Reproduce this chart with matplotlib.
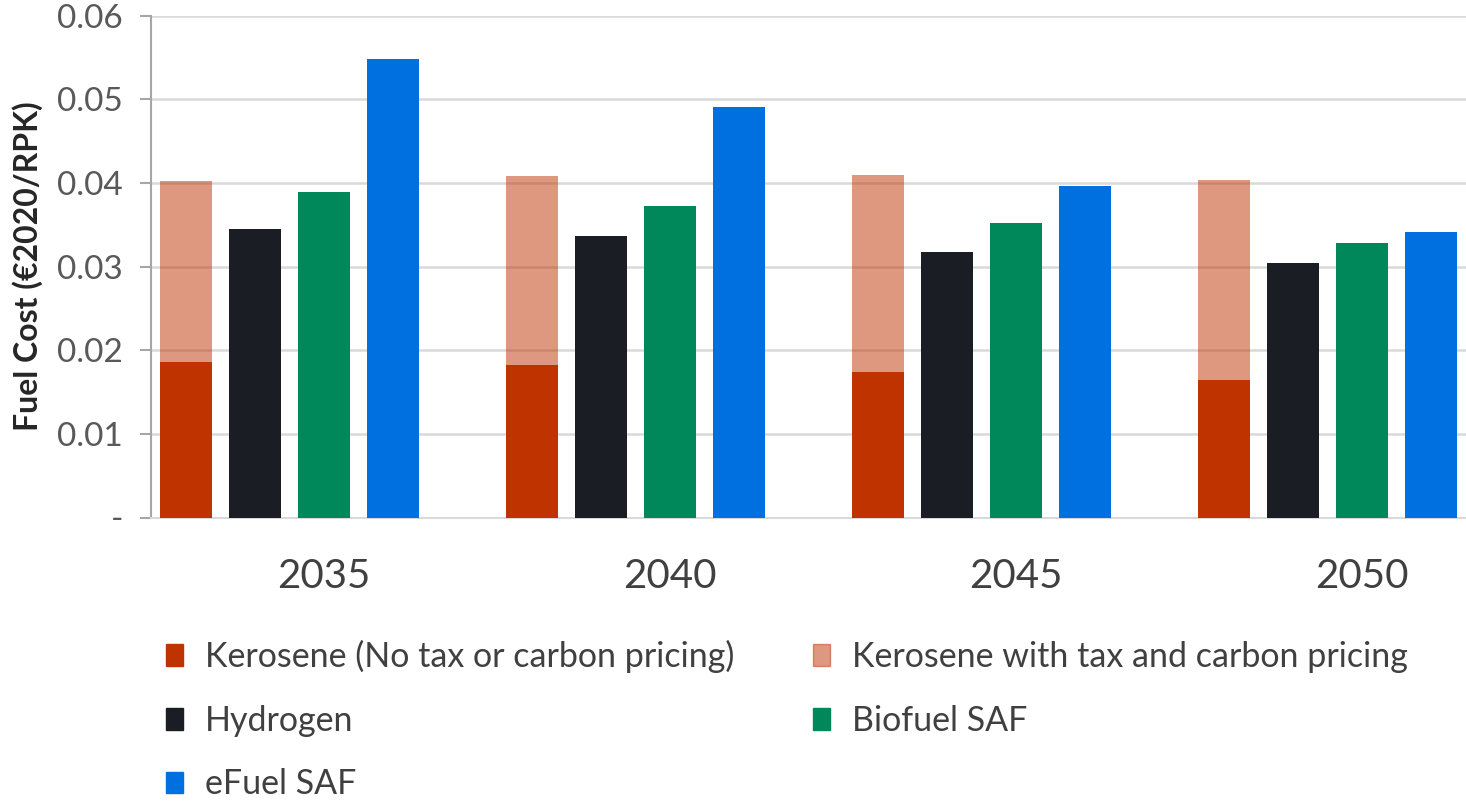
import numpy as np
import matplotlib
matplotlib.use('Agg')
import matplotlib.pyplot as plt
from matplotlib.patches import Patch

plt.rcParams['font.family'] = ['Lato', 'DejaVu Sans']

## Data
years = ['2035', '2040', '2045', '2050']
kero_base = [0.0186, 0.0182, 0.0174, 0.0165]   # no tax or carbon pricing
kero_tax = [0.0402, 0.0408, 0.0409, 0.0404]    # with tax and carbon pricing
hydrogen = [0.0345, 0.0337, 0.0317, 0.0304]
biofuel = [0.0389, 0.0373, 0.0352, 0.0328]
efuel = [0.0548, 0.0491, 0.0396, 0.0341]

labels = ['Kerosene (No tax or carbon pricing)', 'Kerosene with tax and carbon pricing',
          'Hydrogen', 'Biofuel SAF', 'eFuel SAF']
c_red = '#BF3300'
c_black = '#1A1D23'
c_green = '#00875A'
c_blue = '#0070E0'

x = np.arange(len(years))
w = 0.15

fig = plt.figure(figsize=(14.66, 8.01), dpi=100)
ax = fig.add_axes([151/1466, 1 - 517.5/801, (1466 - 151)/1466, (517.5 - 15.7)/801])

ax.bar(x - 0.4, kero_tax, w, color=c_red, alpha=0.5, zorder=2)
ax.bar(x - 0.4, kero_base, w, color=c_red, zorder=3)
ax.bar(x - 0.2, hydrogen, w, color=c_black, zorder=3)
ax.bar(x, biofuel, w, color=c_green, zorder=3)
ax.bar(x + 0.2, efuel, w, color=c_blue, zorder=3)

ax.set_xlim(-0.5, 3.3)
ax.set_ylim(0, 0.06)
ax.set_yticks(np.arange(0, 0.061, 0.01))
ax.set_yticklabels(['-', '0.01', '0.02', '0.03', '0.04', '0.05', '0.06'])
ax.set_xticks(x)
ax.set_xticklabels(years)

ax.grid(axis='y', color='#D9D9D9', lw=1.8, zorder=0)
ax.set_axisbelow(True)
for s in ['top', 'right']:
    ax.spines[s].set_visible(False)
ax.spines['left'].set_color('#A6A6A6')
ax.spines['left'].set_linewidth(1.5)
ax.spines['bottom'].set_color('#D9D9D9')
ax.spines['bottom'].set_linewidth(1.5)

ax.tick_params(axis='y', length=8, width=1.5, color='#A6A6A6', pad=12,
               labelsize=24, labelcolor='#595959')
ax.tick_params(axis='x', length=0, pad=29, labelsize=29, labelcolor='#404040')
ax.set_ylabel('Fuel Cost (€2020/RPK)', fontsize=23, fontweight='bold',
              color='#262626', labelpad=10)

handles = [Patch(color=c_red), Patch(color=c_red, alpha=0.5),
           Patch(color=c_black), Patch(color=c_green), Patch(color=c_blue)]
order = [0, 2, 4, 1, 3]
fig.legend([handles[i] for i in order], [labels[i] for i in order],
           ncol=2, loc='upper left', bbox_to_anchor=(166/1466, 1 - 640/801),
           frameon=False, fontsize=24.5, labelcolor='#404040',
           handlelength=0.5, handleheight=0.6, handletextpad=0.65,
           columnspacing=2.3, labelspacing=0.93, borderpad=0, borderaxespad=0)

fig.savefig('out.png', dpi=100)
